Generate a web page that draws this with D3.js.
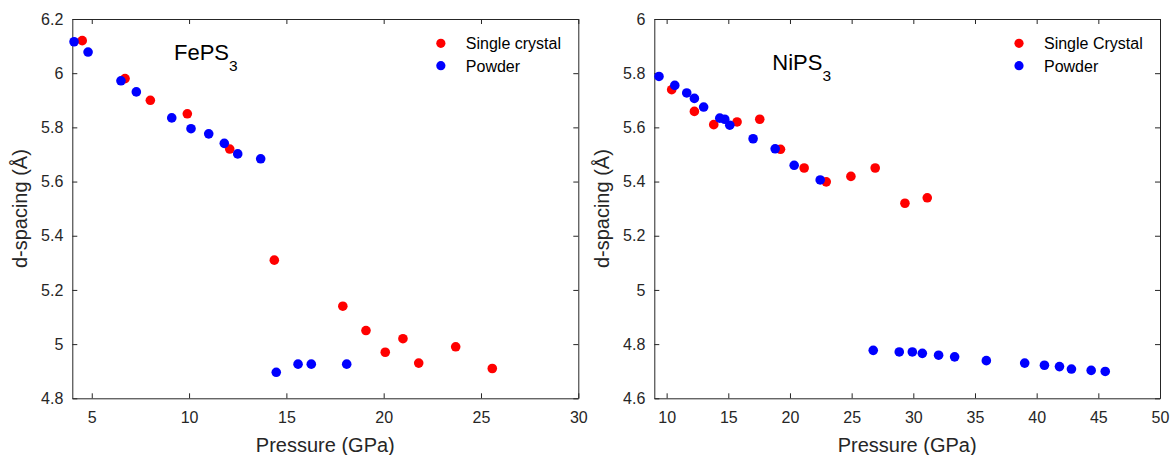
<!DOCTYPE html>
<html>
<head>
<meta charset="utf-8">
<script src="https://cdn.jsdelivr.net/npm/d3@7"></script>
<style>
  html, body { margin: 0; padding: 0; background: #fff; }
  svg { display: block; font-family: "Liberation Sans", Arial, Helvetica, sans-serif; }
</style>
</head>
<body>
<svg id="chart" width="1172" height="455"></svg>
<script>
// ---------- DATA ----------
// FePS3 panel
const feCrystalP = [4.51, 6.71, 8.01, 9.91, 12.09, 14.38, 17.9, 19.09, 20.08, 20.99, 21.8, 23.7, 25.58];
const feCrystalD = [6.12, 5.98, 5.90, 5.85, 5.72, 5.31, 5.14, 5.05, 4.97, 5.02, 4.93, 4.99, 4.91];
const fePowderP = [4.09, 4.81, 6.50, 7.29, 9.11, 10.10, 11.01, 11.81, 12.50, 13.68, 14.48, 15.60, 16.28, 18.10];
const fePowderD = [6.116, 6.078, 5.972, 5.931, 5.835, 5.795, 5.776, 5.741, 5.702, 5.684, 4.896, 4.926, 4.926, 4.926];

// NiPS3 panel
const niCrystalP = [10.41, 12.25, 13.82, 15.71, 17.55, 19.23, 21.15, 22.94, 24.94, 26.91, 29.32, 31.13];
const niCrystalD = [5.739, 5.659, 5.61, 5.62, 5.63, 5.519, 5.45, 5.399, 5.419, 5.45, 5.32, 5.34];
const niPowderP = [9.38, 10.66, 11.63, 12.25, 13.0, 14.31, 14.71, 15.12, 17.01, 18.8, 20.34, 22.45,
                   26.75, 28.86, 29.92, 30.73, 32.05, 33.35, 35.92, 39.03, 40.63, 41.85, 42.82, 44.42, 45.56];
const niPowderD = [5.788, 5.755, 5.727, 5.707, 5.675, 5.634, 5.630, 5.608, 5.558, 5.521, 5.46, 5.406,
                   4.777, 4.771, 4.771, 4.766, 4.759, 4.753, 4.739, 4.730, 4.722, 4.717, 4.708, 4.703, 4.699];

// Axes / ticks
const feXDomain = [4, 30];
const feYDomain = [4.8, 6.2];
const feXTicks = [5, 10, 15, 20, 25, 30];
const feYTicks = [4.8, 5, 5.2, 5.4, 5.6, 5.8, 6, 6.2];
const niXDomain = [9, 50];
const niYDomain = [4.6, 6];
const niXTicks = [10, 15, 20, 25, 30, 35, 40, 45, 50];
const niYTicks = [4.6, 4.8, 5, 5.2, 5.4, 5.6, 5.8, 6];

const feLegend = ["Single crystal", "Powder"];
const niLegend = ["Single Crystal", "Powder"];
const xLabel = "Pressure (GPa)";
const yLabel = "d-spacing (Å)";

// ---------- DRAW ----------
const RED = "#ff0000", BLUE = "#0000ff", AXIS = "#262626";
const svg = d3.select("#chart");

const panels = [
  { left: 72.3, right: 578.3, title: ["FePS", "3"], titleDx: 101.7, titleDy: 41,
    xDomain: feXDomain, yDomain: feYDomain, xTicks: feXTicks, yTicks: feYTicks,
    crystal: [feCrystalP, feCrystalD], powder: [fePowderP, fePowderD], legend: feLegend },
  { left: 654.3, right: 1160, title: ["NiPS", "3"], titleDx: 118, titleDy: 51,
    xDomain: niXDomain, yDomain: niYDomain, xTicks: niXTicks, yTicks: niYTicks,
    crystal: [niCrystalP, niCrystalD], powder: [niPowderP, niPowderD], legend: niLegend }
];
const plotTop = 19, plotBottom = 398.3;
const fmt = d => String(+d.toFixed(2));

panels.forEach(p => {
  const x = d3.scaleLinear().domain(p.xDomain).range([p.left, p.right]);
  const y = d3.scaleLinear().domain(p.yDomain).range([plotBottom, plotTop]);
  const g = svg.append("g");

  const styleAxis = sel => {
    sel.selectAll("path, line").attr("stroke", AXIS).attr("stroke-width", 1);
    sel.selectAll("text").attr("fill", AXIS).style("font-size", "16px")
      .style("font-family", '"Liberation Sans", Arial, sans-serif');
  };

  g.append("g").attr("transform", `translate(0,${plotBottom})`)
    .call(d3.axisBottom(x).tickValues(p.xTicks).tickFormat(fmt).tickSizeInner(-5).tickSizeOuter(0).tickPadding(13.6))
    .call(styleAxis);
  g.append("g").attr("transform", `translate(0,${plotTop})`)
    .call(d3.axisTop(x).tickValues(p.xTicks).tickFormat("").tickSizeInner(-5).tickSizeOuter(0))
    .call(styleAxis);
  g.append("g").attr("transform", `translate(${p.left},0)`)
    .call(d3.axisLeft(y).tickValues(p.yTicks).tickFormat(fmt).tickSizeInner(-5).tickSizeOuter(0).tickPadding(9))
    .call(styleAxis);
  g.append("g").attr("transform", `translate(${p.right},0)`)
    .call(d3.axisRight(y).tickValues(p.yTicks).tickFormat("").tickSizeInner(-5).tickSizeOuter(0))
    .call(styleAxis);
  g.selectAll(".domain").attr("fill", "none");

  // axis labels
  g.append("text").attr("x", (p.left + p.right) / 2).attr("y", 451.7)
    .attr("text-anchor", "middle").attr("fill", AXIS).style("font-size", "20px").text(xLabel);
  g.append("text").attr("transform", `translate(${p.left - 45},${(plotTop + plotBottom) / 2}) rotate(-90)`)
    .attr("text-anchor", "middle").attr("fill", AXIS).style("font-size", "20px").text(yLabel);

  // points
  const crystalPts = p.crystal[0].map((v, i) => [v, p.crystal[1][i]]);
  const powderPts = p.powder[0].map((v, i) => [v, p.powder[1][i]]);
  g.append("g").selectAll("circle").data(crystalPts).join("circle")
    .attr("cx", d => x(d[0])).attr("cy", d => y(d[1])).attr("r", 4.8).attr("fill", RED);
  g.append("g").selectAll("circle").data(powderPts).join("circle")
    .attr("cx", d => x(d[0])).attr("cy", d => y(d[1])).attr("r", 4.8).attr("fill", BLUE);

  // title
  const t = g.append("text").attr("x", p.left + p.titleDx).attr("y", plotTop + p.titleDy)
    .attr("fill", "#000").style("font-size", "22px");
  t.append("tspan").text(p.title[0]);
  t.append("tspan").attr("dy", 10.7).style("font-size", "15.5px").text(p.title[1]);

  // legend
  const colors = [RED, BLUE];
  const rowsY = [43.3, 65.7];
  p.legend.forEach((lab, i) => {
    g.append("text").attr("class", "leg").attr("y", rowsY[i] + 6).attr("fill", "#000")
      .style("font-size", "16px").text(lab);
  });
  const texts = g.selectAll("text.leg");
  let maxW = 0;
  texts.each(function() { maxW = Math.max(maxW, this.getComputedTextLength()); });
  const tx = p.right - 17.3 - maxW;
  texts.attr("x", tx);
  rowsY.forEach((yy, i) => {
    g.append("circle").attr("cx", tx - 25).attr("cy", yy).attr("r", 4.6).attr("fill", colors[i]);
  });
});
</script>
</body>
</html>
